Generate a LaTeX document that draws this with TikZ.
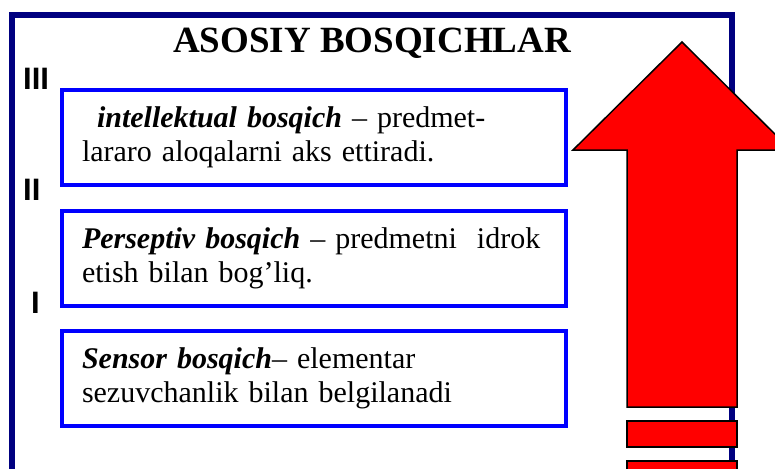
\documentclass[tikz,border=0pt]{standalone}
\usepackage{fontspec}
\setmainfont{Liberation Serif}
\newfontfamily\numfont{Liberation Sans}
\definecolor{framenavy}{HTML}{000080}
\definecolor{boxblue}{HTML}{0000FF}
\definecolor{arrowred}{HTML}{FF0000}
\tikzset{
  stagebox/.style={draw=boxblue, line width=4pt, anchor=north west,
    text width=464pt, minimum height=95pt, inner xsep=20pt, inner ysep=0pt,
    align=left, font=\fontsize{30}{34}\selectfont},
  levelnum/.style={anchor=base west, inner sep=0pt, font=\numfont\bfseries\fontsize{31}{31}\selectfont}
}
\begin{document}
\begin{tikzpicture}[x=1pt,y=-1pt]
        \useasboundingbox (0,0) rectangle (775,468);

        % 外框
        \draw[framenavy, line width=6pt] (12,490) -- (12,15) -- (732,15) -- (732,490);

        % 标题
        \node[anchor=base, inner sep=0pt, font=\bfseries\fontsize{37}{37}\selectfont] (title) at (372,53) {ASOSIY BOSQICHLAR};

        % 三个阶段
        \node[stagebox] (intel) at (60,88) {\hspace*{15pt}\textbf{\textit{intellektual bosqich}} -- predmet-\\lararo aloqalarni aks ettiradi.};
        \node[stagebox] (persep) at (60,209) {\textbf{\textit{Perseptiv bosqich}} -- predmetni\ \ idrok\\etish bilan bog’liq.};
        \node[stagebox] (sensor) at (60,329) {\textbf{\textit{Sensor bosqich}}-- elementar\\sezuvchanlik bilan belgilanadi};

        % 罗马数字
        \node[levelnum] (lvlIII) at (23,90) {III};
        \node[levelnum] (lvlII) at (23,200) {II};
        \node[levelnum] (lvlI) at (31,313) {I};

        % 红色箭头(画在外框之上)
        \draw[fill=arrowred, line width=1.5pt] (627,407) -- (627,150) -- (573,150) -- (682,42)
            -- (791,150) -- (737,150) -- (737,407) -- cycle;
        \draw[fill=arrowred, line width=1.5pt] (627,421) rectangle (737,447);
        \draw[fill=arrowred, line width=1.5pt] (627,461) rectangle (737,495);
\end{tikzpicture}
\end{document}
